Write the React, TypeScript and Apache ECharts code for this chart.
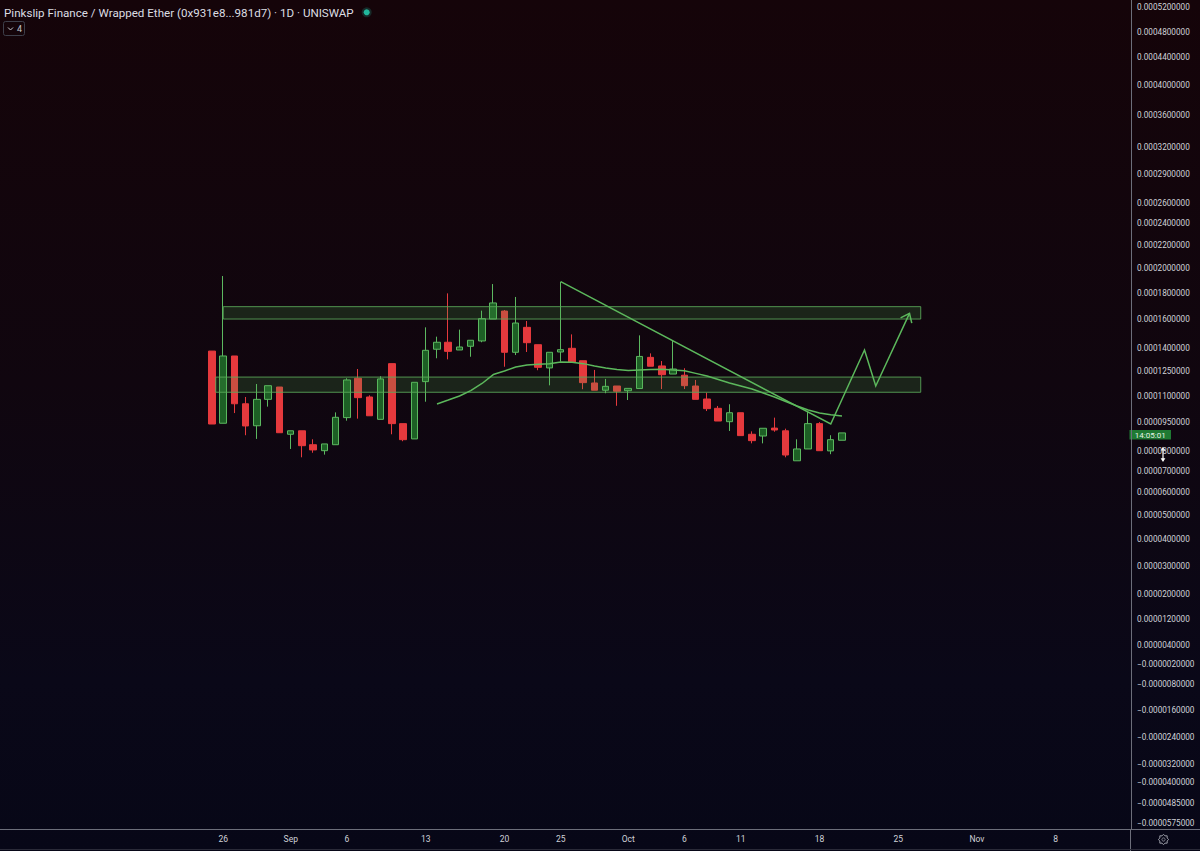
import React, { useEffect, useRef } from "react";
import * as echarts from "echarts";

const TITLE = "Pinkslip Finance / Wrapped Ether (0x931e8...981d7) · 1D · UNISWAP";
const INDICATOR_COUNT = "4";
const COUNTDOWN = "14:05:01";

const DATES = [
  "2020-08-25", "2020-08-26", "2020-08-27", "2020-08-28", "2020-08-29", "2020-08-30", "2020-08-31",
  "2020-09-01", "2020-09-02", "2020-09-03", "2020-09-04", "2020-09-05", "2020-09-06", "2020-09-07",
  "2020-09-08", "2020-09-09", "2020-09-10", "2020-09-11", "2020-09-12", "2020-09-13", "2020-09-14",
  "2020-09-15", "2020-09-16", "2020-09-17", "2020-09-18", "2020-09-19", "2020-09-20", "2020-09-21",
  "2020-09-22", "2020-09-23", "2020-09-24", "2020-09-25", "2020-09-26", "2020-09-27", "2020-09-28",
  "2020-09-29", "2020-09-30", "2020-10-01", "2020-10-02", "2020-10-03", "2020-10-04", "2020-10-05",
  "2020-10-06", "2020-10-07", "2020-10-08", "2020-10-09", "2020-10-10", "2020-10-11", "2020-10-12",
  "2020-10-13", "2020-10-14", "2020-10-15", "2020-10-16", "2020-10-17", "2020-10-18", "2020-10-19",
  "2020-10-20",
];

const OPEN = [
  138.0e-6, 94.2e-6, 134.8e-6, 105.6e-6, 92.9e-6, 108.2e-6, 115.5e-6, 88.5e-6, 90.3e-6, 83.1e-6,
  80.0e-6, 83.1e-6, 97.4e-6, 120.7e-6, 109.6e-6, 96.4e-6, 129.8e-6, 94.0e-6, 86.1e-6, 118.7e-6,
  139.2e-6, 144.0e-6, 138.7e-6, 141.2e-6, 144.9e-6, 160.2e-6, 166.2e-6, 137.2e-6, 154.4e-6, 142.3e-6,
  127.0e-6, 137.4e-6, 139.8e-6, 131.7e-6, 117.9e-6, 113.6e-6, 116.1e-6, 113.3e-6, 114.6e-6, 133.9e-6,
  128.3e-6, 123.2e-6, 122.5e-6, 116.1e-6, 108.4e-6, 102.9e-6, 95.0e-6, 100.3e-6, 88.5e-6, 87.6e-6,
  91.7e-6, 90.3e-6, 75.1e-6, 80.9e-6, 94.0e-6, 79.9e-6, 85.4e-6,
];
const HIGH = [
  138.0e-6, 193.5e-6, 134.8e-6, 109.6e-6, 117.3e-6, 116.3e-6, 115.5e-6, 90.3e-6, 90.3e-6, 85.9e-6,
  83.5e-6, 100.5e-6, 120.7e-6, 126.3e-6, 110.6e-6, 121.9e-6, 129.8e-6, 94.0e-6, 118.3e-6, 154.4e-6,
  147.9e-6, 179.5e-6, 152.8e-6, 145.4e-6, 166.5e-6, 187.0e-6, 167.0e-6, 176.8e-6, 158.8e-6, 142.3e-6,
  137.2e-6, 188.9e-6, 149.5e-6, 131.7e-6, 125.7e-6, 120.3e-6, 116.1e-6, 114.7e-6, 148.8e-6, 136.5e-6,
  131.5e-6, 145.1e-6, 126.8e-6, 119.7e-6, 112.1e-6, 104.3e-6, 105.3e-6, 100.3e-6, 90.0e-6, 91.6e-6,
  97.4e-6, 91.4e-6, 85.9e-6, 100.7e-6, 94.8e-6, 88.0e-6, 89.2e-6,
];
const LOW = [
  93.8e-6, 94.2e-6, 100.1e-6, 88.0e-6, 86.1e-6, 103.9e-6, 89.3e-6, 80.9e-6, 76.8e-6, 79.0e-6,
  78.1e-6, 83.1e-6, 95.6e-6, 96.8e-6, 98.5e-6, 96.4e-6, 88.5e-6, 84.9e-6, 86.1e-6, 106.8e-6,
  133.3e-6, 132.6e-6, 138.7e-6, 134.3e-6, 144.0e-6, 160.2e-6, 127.8e-6, 135.4e-6, 137.4e-6, 125.5e-6,
  116.5e-6, 131.1e-6, 130.7e-6, 114.2e-6, 113.6e-6, 111.8e-6, 104.4e-6, 107.8e-6, 114.6e-6, 128.1e-6,
  114.3e-6, 123.2e-6, 114.3e-6, 108.2e-6, 101.3e-6, 95.4e-6, 90.2e-6, 87.8e-6, 83.8e-6, 83.8e-6,
  89.8e-6, 76.8e-6, 75.1e-6, 80.9e-6, 80.0e-6, 78.3e-6, 85.4e-6,
];
const CLOSE = [
  93.8e-6, 134.8e-6, 105.6e-6, 92.8e-6, 108.2e-6, 116.3e-6, 89.3e-6, 90.3e-6, 82.6e-6, 80.4e-6,
  83.5e-6, 97.6e-6, 119.7e-6, 109.2e-6, 98.5e-6, 120.3e-6, 94.0e-6, 85.7e-6, 118.3e-6, 138.5e-6,
  144.0e-6, 137.8e-6, 140.7e-6, 145.4e-6, 160.5e-6, 172.3e-6, 137.2e-6, 157.4e-6, 143.7e-6, 127.4e-6,
  137.2e-6, 138.9e-6, 130.7e-6, 118.1e-6, 113.6e-6, 115.9e-6, 113.0e-6, 114.7e-6, 134.5e-6, 128.1e-6,
  122.8e-6, 126.3e-6, 116.3e-6, 108.2e-6, 102.7e-6, 95.4e-6, 100.3e-6, 87.8e-6, 85.2e-6, 91.6e-6,
  90.7e-6, 77.9e-6, 80.9e-6, 94.0e-6, 80.0e-6, 85.7e-6, 89.2e-6,
];

// Moving average line, from 2020-09-14 to 2020-10-20
const MA_START = "2020-09-14";
const MA_VALUES = [
  105.5e-6, 107.8e-6, 110.2e-6, 113.4e-6, 117.6e-6, 122.9e-6, 125.0e-6, 127.6e-6, 128.9e-6, 129.4e-6,
  129.8e-6, 130.9e-6, 130.7e-6, 129.8e-6, 128.3e-6, 127.0e-6, 126.0e-6, 125.3e-6, 125.7e-6, 126.0e-6,
  126.1e-6, 125.7e-6, 125.2e-6, 123.6e-6, 122.0e-6, 120.0e-6, 117.9e-6, 116.1e-6, 114.3e-6, 112.0e-6,
  109.6e-6, 106.9e-6, 104.3e-6, 101.9e-6, 100.1e-6, 99.1e-6, 98.4e-6,
];

// Drawn trend line + projected zig-zag arrow: [time, price]
const ARROW_PATH: [string, number][] = [
  ["2020-09-25", 188.9e-6],
  ["2020-10-19", 93.8e-6],
  ["2020-10-22", 138.7e-6],
  ["2020-10-23", 116.1e-6],
  ["2020-10-26", 164.5e-6],
];

// Drawn rectangles (zones): [from, to, low price, high price]
const ZONES: [string, string, number, number][] = [
  ["2020-08-26T00:00", "2020-10-27T00:00", 160.2e-6, 169.5e-6],
  ["2020-08-25T08:00", "2020-10-27T00:00", 112.4e-6, 121.4e-6],
];

// Time-axis labels
const X_TICKS: [string, string][] = [
  ["2020-08-26", "26"], ["2020-09-01", "Sep"], ["2020-09-06", "6"], ["2020-09-13", "13"],
  ["2020-09-20", "20"], ["2020-09-25", "25"], ["2020-10-01", "Oct"], ["2020-10-06", "6"],
  ["2020-10-11", "11"], ["2020-10-18", "18"], ["2020-10-25", "25"], ["2020-11-01", "Nov"],
  ["2020-11-08", "8"],
];

// Price-axis labels (TradingView's non-linear price scale)
const PRICE_TICKS = [
  0.00052, 0.00048, 0.00044, 0.0004, 0.00036, 0.00032, 0.00029, 0.00026, 0.00024, 0.00022,
  0.0002, 0.00018, 0.00016, 0.00014, 0.000125, 0.00011, 0.000095, 0.00008, 0.00007, 0.00006,
  0.00005, 0.00004, 0.00003, 0.00002, 0.000012, 0.000004, -0.000002, -0.000008, -0.000016,
  -0.000024, -0.000032, -0.00004, -0.0000485, -0.0000575,
];
// Scale position of each price tick (scale units, measured from the bottom of the pane)
const SCALE_POS = [
  822.2, 797.2, 772.2, 744.5, 714.5, 682.5, 655.2, 626.5, 606.8, 584.5,
  561.5, 536.8, 510.2, 481.5, 458.5, 433.2, 407.8, 378.8, 358.2, 337.2,
  314.2, 290.5, 263.1, 235.5, 210.5, 185, 165.5, 146, 120,
  93, 65.5, 47.8, 26.2, 6.2,
];
const SCALE_MAX = 829.5;
// Visible time window, in days from 2020-08-25
const VIEW_FROM = -18.8444;
const VIEW_TO = 81.6889;

const DAY0 = Date.UTC(2020, 7, 25);
function day(s: string): number {
  const [d, t] = s.split("T");
  const [y, m, dd] = d.split("-").map(Number);
  let ms = Date.UTC(y, m - 1, dd);
  if (t) {
    const [hh, mm] = t.split(":").map(Number);
    ms += (hh * 60 + mm) * 60000;
  }
  return (ms - DAY0) / 86400000;
}

function toU(p: number): number {
  const n = PRICE_TICKS.length;
  let i = 0;
  if (p <= PRICE_TICKS[n - 1]) i = n - 2;
  else if (p < PRICE_TICKS[0]) {
    while (i < n - 2 && p < PRICE_TICKS[i + 1]) i++;
  }
  const p0 = PRICE_TICKS[i], p1 = PRICE_TICKS[i + 1];
  const u0 = SCALE_POS[i], u1 = SCALE_POS[i + 1];
  return u0 + ((p - p0) * (u1 - u0)) / (p1 - p0);
}

function fmtPrice(v: number): string {
  return (v < 0 ? "\u2212" : "") + Math.abs(v).toFixed(10);
}

const UP_FILL = "#1d5f25";
const UP_BORDER = "#5cb860";
const DOWN = "#e5393d";
const DRAW = "#5cb85c";
const AXIS_LINE = "#6c6e7a";
const LABEL = "#d0d2d8";

function gearPoints(cx: number, cy: number): number[][] {
  const pts: number[][] = [];
  for (let k = 0; k < 16; k++) {
    const a = (k * Math.PI) / 8;
    const r = k % 2 === 0 ? 5.2 : 3.9;
    pts.push([cx + r * Math.cos(a), cy + r * Math.sin(a)]);
  }
  return pts;
}

export default function App() {
  const ref = useRef<HTMLDivElement>(null);

  useEffect(() => {
    document.body.style.margin = "0";
    if (!ref.current) return;
    const chart = echarts.init(ref.current, undefined, { renderer: "svg" });

    const candles = DATES.map((d, i) => [day(d), toU(OPEN[i]), toU(CLOSE[i]), toU(LOW[i]), toU(HIGH[i])]);
    const ma0 = day(MA_START);
    const maData = MA_VALUES.map((v, i) => [ma0 + i, toU(v)]);
    const zoneData = ZONES.map((z) => [day(z[0]), day(z[1]), toU(z[2]), toU(z[3])]);
    const arrowPts = ARROW_PATH.map((p) => [day(p[0]), toU(p[1])]);
    const xTickVals = X_TICKS.map((t) => day(t[0]));

    const option: any = {
      animation: false,
      backgroundColor: "transparent",
      textStyle: { fontFamily: "Roboto" },
      grid: { left: 0, right: 69, top: 0, bottom: 21.5, containLabel: false, outerBoundsMode: "none" },
      xAxis: {
        type: "value",
        min: VIEW_FROM,
        max: VIEW_TO,
        axisLine: { show: true, onZero: false, lineStyle: { color: AXIS_LINE, width: 1 } },
        axisTick: { show: false },
        splitLine: { show: false },
        axisLabel: {
          customValues: xTickVals,
          color: LABEL,
          fontSize: 8.5,
          fontFamily: "Roboto",
          margin: 5,
          formatter: (v: number) => {
            let best = 0;
            xTickVals.forEach((x, i) => {
              if (Math.abs(x - v) < Math.abs(xTickVals[best] - v)) best = i;
            });
            return X_TICKS[best][1];
          },
        },
      },
      yAxis: {
        type: "value",
        position: "right",
        min: 0,
        max: SCALE_MAX,
        axisLine: { show: true, onZero: false, lineStyle: { color: AXIS_LINE, width: 1 } },
        axisTick: { show: false },
        splitLine: { show: false },
        axisLabel: {
          customValues: SCALE_POS,
          color: LABEL,
          fontSize: 8.2,
          fontFamily: "Roboto",
          margin: 6,
          align: "left",
          formatter: (v: number) => {
            let best = 0;
            SCALE_POS.forEach((u, i) => {
              if (Math.abs(u - v) < Math.abs(SCALE_POS[best] - v)) best = i;
            });
            return fmtPrice(PRICE_TICKS[best]);
          },
        },
      },
      series: [
        {
          type: "candlestick",
          data: candles,
          encode: { x: 0, y: [1, 2, 3, 4] },
          barWidth: 7,
          z: 2,
          itemStyle: {
            color: UP_FILL,
            borderColor: UP_BORDER,
            color0: DOWN,
            borderColor0: DOWN,
            borderWidth: 1,
          },
        },
        {
          type: "custom",
          z: 3,
          data: zoneData,
          encode: { x: [0, 1], y: [2, 3] },
          renderItem: (_params: any, api: any) => {
            const a = api.coord([api.value(0), api.value(3)]);
            const b = api.coord([api.value(1), api.value(2)]);
            return {
              type: "rect",
              shape: { x: a[0], y: a[1], width: b[0] - a[0], height: b[1] - a[1] },
              style: { fill: "rgba(76,175,80,0.18)", stroke: "rgba(92,170,90,0.85)", lineWidth: 1 },
            };
          },
        },
        {
          type: "line",
          z: 4,
          data: maData,
          showSymbol: false,
          symbol: "none",
          smooth: false,
          lineStyle: { color: DRAW, width: 1.5 },
        },
        {
          type: "custom",
          z: 5,
          data: arrowPts,
          encode: { x: 0, y: 1 },
          renderItem: (params: any, api: any) => {
            if (params.dataIndex !== 0) return null;
            const px = arrowPts.map((p) => api.coord(p));
            const n = px.length;
            const tip = px[n - 1];
            const prev = px[n - 2];
            const dx = prev[0] - tip[0], dy = prev[1] - tip[1];
            const len = Math.hypot(dx, dy);
            const bx = dx / len, by = dy / len;
            const L = 10, th = (38 * Math.PI) / 180;
            const rot = (s: number) => [
              tip[0] + L * (bx * Math.cos(s) - by * Math.sin(s)),
              tip[1] + L * (bx * Math.sin(s) + by * Math.cos(s)),
            ];
            return {
              type: "group",
              children: [
                { type: "polyline", shape: { points: px }, style: { stroke: DRAW, lineWidth: 1.5, fill: "none" } },
                {
                  type: "polyline",
                  shape: { points: [rot(th), tip, rot(-th)] },
                  style: { stroke: DRAW, lineWidth: 1.5, fill: "none" },
                },
              ],
            };
          },
        },
      ],
      graphic: [
        { type: "line", shape: { x1: 1131, y1: 829.5, x2: 1200, y2: 829.5 }, style: { stroke: AXIS_LINE, lineWidth: 1 } },
        { type: "line", shape: { x1: 1130.5, y1: 829.5, x2: 1130.5, y2: 851 }, style: { stroke: AXIS_LINE, lineWidth: 1 } },
        { type: "line", shape: { x1: 0, y1: 849.5, x2: 1200, y2: 849.5 }, style: { stroke: "#2a2a38", lineWidth: 1 } },
        {
          type: "text",
          x: 4,
          y: 12.5,
          style: { text: TITLE, fill: "#dcdde2", font: "11.6px Roboto", verticalAlign: "middle" },
        },
        { type: "circle", shape: { cx: 366.7, cy: 12.3, r: 5 }, style: { fill: "rgba(34,171,148,0.22)" } },
        { type: "circle", shape: { cx: 366.7, cy: 12.3, r: 3 }, style: { fill: "#22b79c" } },
        { type: "rect", shape: { x: 3.5, y: 21.5, width: 21, height: 14, r: 2 }, style: { fill: "none", stroke: "#3d3f4a", lineWidth: 1 } },
        { type: "polyline", shape: { points: [[8, 27.5], [10.5, 30], [13, 27.5]] }, style: { stroke: "#c4c6cc", lineWidth: 1, fill: "none" } },
        {
          type: "text",
          x: 17,
          y: 29,
          style: { text: INDICATOR_COUNT, fill: "#c4c6cc", font: "9px Roboto", verticalAlign: "middle" },
        },
        { type: "rect", shape: { x: 1129.5, y: 430, width: 41.5, height: 9.5 }, style: { fill: "#1f7a33" } },
        {
          type: "text",
          x: 1150.2,
          y: 435,
          style: { text: COUNTDOWN, fill: "#e6f2e6", font: "8px Roboto", align: "center", verticalAlign: "middle" },
        },
        { type: "line", shape: { x1: 1163, y1: 448, x2: 1163, y2: 460.5 }, style: { stroke: "#ffffff", lineWidth: 1.2 } },
        { type: "polygon", shape: { points: [[1160.6, 450.5], [1163, 446.8], [1165.4, 450.5]] }, style: { fill: "#ffffff" } },
        { type: "polygon", shape: { points: [[1160.6, 458.2], [1163, 461.9], [1165.4, 458.2]] }, style: { fill: "#ffffff" } },
        { type: "polygon", shape: { points: gearPoints(1163.5, 839.5) }, style: { fill: "none", stroke: "#9a9ca6", lineWidth: 1 } },
        { type: "circle", shape: { cx: 1163.5, cy: 839.5, r: 1.6 }, style: { fill: "none", stroke: "#9a9ca6", lineWidth: 0.8 } },
      ],
    };

    chart.setOption(option);
    return () => chart.dispose();
  }, []);

  return (
    <div
      style={{
        width: 1200,
        height: 851,
        position: "relative",
        background: "linear-gradient(to bottom, #150409 0%, #10060f 45%, #0a0818 80%, #070717 100%)",
      }}
    >
      <div ref={ref} style={{ width: 1200, height: 851 }} />
    </div>
  );
}
